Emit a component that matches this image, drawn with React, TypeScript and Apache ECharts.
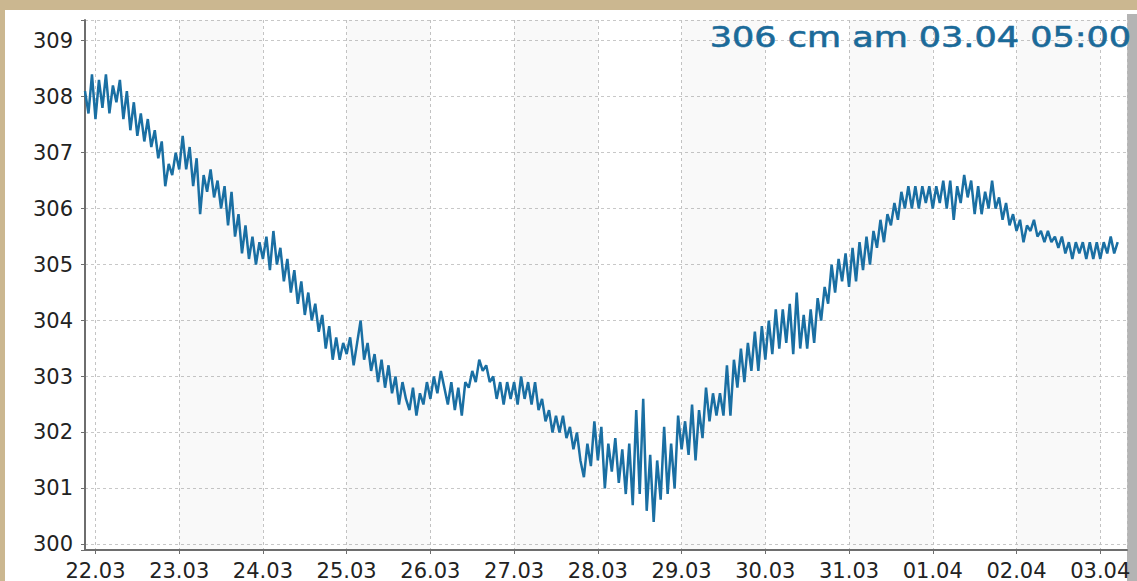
import React, { useEffect, useRef } from "react";
import * as echarts from "echarts";

// Hourly water level (cm), starting 21.03 21:00
const D21 = [308.1, 307.7, 308.4];
const D22 = [307.6, 308.3, 307.8, 308.4, 307.7, 308.2, 307.9, 308.3, 307.6, 308.1, 307.4, 307.9, 307.3, 307.7, 307.2, 307.6, 307.1, 307.4, 306.9, 307.2, 306.4, 306.8, 306.6, 307.0];
const D23 = [306.7, 307.3, 306.7, 307.1, 306.4, 306.9, 305.9, 306.6, 306.3, 306.7, 306.2, 306.5, 306.0, 306.4, 305.7, 306.3, 305.5, 305.9, 305.2, 305.7, 305.1, 305.5, 305.0, 305.4];
const D24 = [305.1, 305.5, 304.9, 305.6, 305.0, 305.3, 304.7, 305.1, 304.5, 304.9, 304.3, 304.7, 304.1, 304.5, 304.0, 304.3, 303.8, 304.1, 303.5, 303.9, 303.3, 303.7, 303.3, 303.6];
const D25 = [303.4, 303.7, 303.2, 303.6, 304.0, 303.3, 303.6, 303.1, 303.4, 302.9, 303.3, 302.8, 303.2, 302.7, 303.0, 302.5, 302.9, 302.6, 302.4, 302.8, 302.3, 302.7, 302.5, 302.9];
const D26 = [302.6, 303.0, 302.7, 303.1, 302.8, 302.5, 302.9, 302.4, 302.8, 302.3, 302.9, 302.8, 303.1, 302.9, 303.3, 303.1, 303.2, 302.9, 303.0, 302.6, 302.9, 302.5, 302.9, 302.6];
const D27 = [302.9, 302.5, 303.0, 302.6, 302.9, 302.5, 302.9, 302.4, 302.6, 302.2, 302.4, 302.0, 302.3, 302.0, 302.3, 301.9, 302.1, 301.7, 302.0, 301.5, 301.2, 301.8, 301.4, 302.2];
const D28 = [301.5, 302.1, 301.0, 301.8, 301.3, 301.9, 301.1, 301.7, 300.9, 301.8, 300.7, 302.4, 300.9, 302.6, 300.6, 301.6, 300.4, 301.5, 300.8, 302.1, 300.9, 301.8, 301.0, 302.3];
const D29 = [301.7, 302.2, 301.6, 302.5, 301.5, 302.4, 301.9, 302.8, 302.2, 302.7, 302.3, 302.7, 302.3, 303.2, 302.3, 303.3, 302.8, 303.5, 302.9, 303.6, 303.1, 303.8, 303.1, 303.9];
const D30 = [303.3, 304.0, 303.4, 304.2, 303.5, 304.2, 303.6, 304.3, 303.4, 304.5, 303.5, 304.1, 303.5, 304.2, 303.6, 304.4, 304.0, 304.6, 304.3, 305.0, 304.5, 305.1, 304.7, 305.2];
const D31 = [304.6, 305.3, 304.7, 305.4, 304.9, 305.5, 305.0, 305.6, 305.3, 305.8, 305.4, 305.9, 305.7, 306.1, 305.8, 306.3, 306.0, 306.4, 306.0, 306.4, 306.0, 306.4, 306.1, 306.4];
const D01 = [306.0, 306.4, 306.1, 306.5, 306.0, 306.5, 305.8, 306.4, 306.1, 306.6, 306.2, 306.5, 305.9, 306.4, 305.9, 306.3, 306.0, 306.5, 306.0, 306.2, 305.8, 306.1, 305.7, 305.9];
const D02 = [305.6, 305.8, 305.4, 305.7, 305.6, 305.8, 305.5, 305.6, 305.4, 305.6, 305.4, 305.5, 305.3, 305.5, 305.2, 305.4, 305.1, 305.4, 305.2, 305.4, 305.1, 305.4, 305.1, 305.4];
const D03 = [305.1, 305.4, 305.2, 305.5, 305.2, 305.4];

const LEVELS = [...D21, ...D22, ...D23, ...D24, ...D25, ...D26, ...D27, ...D28, ...D29, ...D30, ...D31, ...D01, ...D02, ...D03];

// Days shaded light grey [year, month(0-based), day]
const SHADED_DAYS: [number, number, number][] = [
  [2023, 2, 23], [2023, 2, 25], [2023, 2, 27], [2023, 2, 29], [2023, 2, 31], [2023, 3, 2],
];

const TITLE = "306 cm am 03.04 05:00";

export default function App() {
  const ref = useRef<HTMLDivElement>(null);
  useEffect(() => {
    if (!ref.current) return;
    const chart = echarts.init(ref.current, undefined, { renderer: "svg" });
    const data = LEVELS.map((v, i) => [new Date(2023, 2, 21, 21 + i).getTime(), v]);
    const xMin = new Date(2023, 2, 21, 21).getTime();
    const xMax = new Date(2023, 3, 3, 7, 40).getTime();
    const pad = (n: number) => (n < 10 ? "0" + n : "" + n);
    const DAY = 24 * 3600 * 1000;
    const bands = SHADED_DAYS.map(([y, m, d]) => [
      { xAxis: new Date(y, m, d).getTime() },
      { xAxis: new Date(y, m, d + 1).getTime() },
    ]);
    chart.setOption({
      animation: false,
      backgroundColor: "#cbb790",
      graphic: [
        { type: "rect", z: -10, shape: { x: 5, y: 10, width: 1132, height: 571 }, style: { fill: "#ffffff" } },
        { type: "rect", z: -9, shape: { x: 1127, y: 14, width: 10, height: 567 }, style: { fill: "#b4b4b4" } },
        {
          type: "text",
          z: 100,
          x: 1131,
          y: 37,
          scaleX: 1.25,
          style: {
            text: TITLE,
            fontFamily: "DejaVu Sans",
            fontSize: 28,
            fill: "#1b6a99",
            stroke: "#1b6a99",
            lineWidth: 0.6,
            align: "right",
            verticalAlign: "middle",
          },
        },
      ],
      grid: { left: 85, right: 10, top: 20, bottom: 29 },
      xAxis: {
        type: "time",
        min: xMin,
        max: xMax,
        minInterval: DAY,
        maxInterval: DAY,
        axisLine: { lineStyle: { color: "#6e6e6e", width: 2 } },
        axisTick: { show: true, length: 4, lineStyle: { color: "#6e6e6e" } },
        axisLabel: {
          color: "#222",
          fontFamily: "DejaVu Sans",
          fontSize: 21,
          margin: 10,
          hideOverlap: false,
          formatter: (v: number) => {
            const d = new Date(v);
            return pad(d.getDate()) + "." + pad(d.getMonth() + 1);
          },
        },
        splitLine: { show: true, lineStyle: { color: "#c4c4c4", type: [3, 3], width: 1 } },
      },
      yAxis: {
        type: "value",
        min: 299.9,
        max: 309.37,
        splitNumber: 9,
        axisLine: { show: true, lineStyle: { color: "#6e6e6e", width: 2 } },
        axisTick: { show: true, length: 4, lineStyle: { color: "#6e6e6e" } },
        axisLabel: {
          color: "#222",
          fontFamily: "DejaVu Sans",
          fontSize: 21,
          margin: 12,
          formatter: (v: number) => (Math.abs(v - Math.round(v)) < 1e-6 ? String(Math.round(v)) : ""),
        },
        splitLine: { show: true, lineStyle: { color: "#c8c8c8", type: [3, 3], width: 1 } },
      },
      series: [
        {
          type: "line",
          data,
          showSymbol: false,
          symbol: "none",
          lineStyle: { color: "#1a6fa3", width: 2.5 },
          markArea: {
            silent: true,
            itemStyle: { color: "rgba(0,0,0,0.022)" },
            data: bands,
          },
        },
      ],
    });
    return () => chart.dispose();
  }, []);
  return (
    <div
      ref={ref}
      style={{ position: "fixed", left: 0, top: 0, width: 1137, height: 581 }}
    />
  );
}
